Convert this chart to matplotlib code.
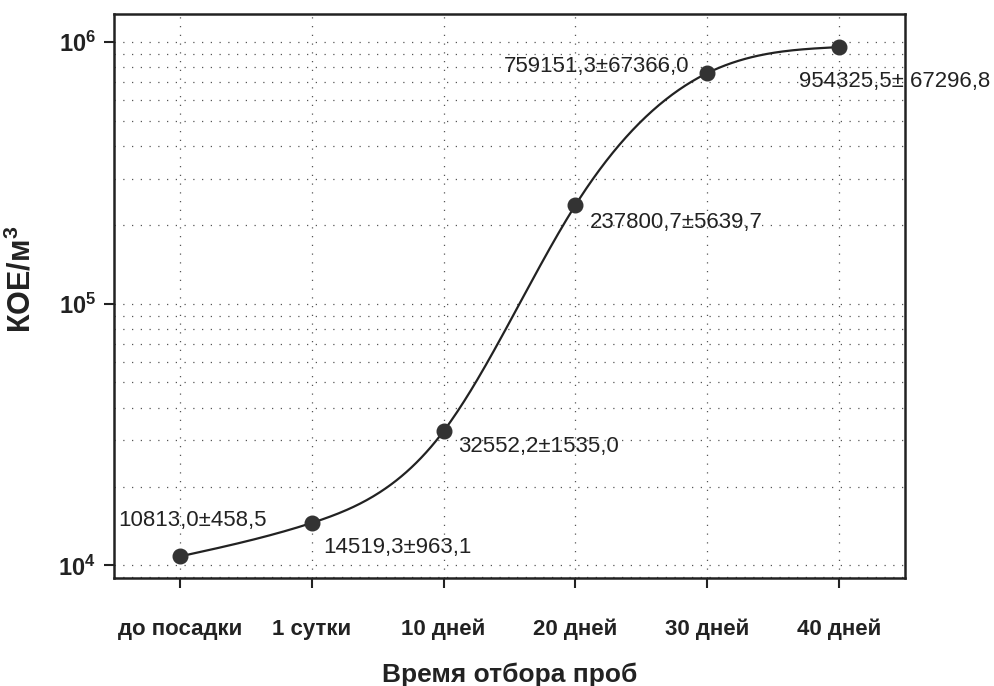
import numpy as np
import matplotlib.pyplot as plt
from matplotlib.ticker import LogLocator, FixedLocator, NullFormatter

plt.rcParams['font.family'] = ['Liberation Sans', 'DejaVu Sans']
plt.rcParams['mathtext.fontset'] = 'custom'
plt.rcParams['mathtext.rm'] = 'Liberation Sans'
plt.rcParams['mathtext.bf'] = 'Liberation Sans:bold'

# данные
categories = ['до посадки', '1 сутки', '10 дней', '20 дней', '30 дней', '40 дней']
values = [10813.0, 14519.3, 32552.2, 237800.7, 759151.3, 954325.5]
errors = [458.5, 963.1, 1535.0, 5639.7, 67366.0, 67296.8]
labels = ['10813,0±458,5', '14519,3±963,1', '32552,2±1535,0',
          '237800,7±5639,7', '759151,3±67366,0', '954325,5± 67296,8']
# смещения подписей (пиксели)
offsets = [(-62, 36), (11, -25), (14, -15), (14, -17), (-203, 7), (-40, -34)]


def natural_spline(x, y, xs):
    """естественный кубический сплайн"""
    n = len(x)
    h = np.diff(x)
    A = np.zeros((n, n))
    b = np.zeros(n)
    A[0, 0] = A[-1, -1] = 1
    for i in range(1, n - 1):
        A[i, i - 1] = h[i - 1]
        A[i, i] = 2 * (h[i - 1] + h[i])
        A[i, i + 1] = h[i]
        b[i] = 3 * ((y[i + 1] - y[i]) / h[i] - (y[i] - y[i - 1]) / h[i - 1])
    c = np.linalg.solve(A, b)
    out = np.empty_like(xs)
    for k, t in enumerate(xs):
        i = min(max(np.searchsorted(x, t) - 1, 0), n - 2)
        dx = t - x[i]
        bb = (y[i + 1] - y[i]) / h[i] - h[i] * (2 * c[i] + c[i + 1]) / 3
        d = (c[i + 1] - c[i]) / (3 * h[i])
        out[k] = y[i] + bb * dx + c[i] * dx ** 2 + d * dx ** 3
    return out


x = np.arange(len(categories), dtype=float)
logv = np.log10(values)
xs = np.linspace(0, x[-1], 400)
ys = 10 ** natural_spline(x, logv, xs)

fig = plt.figure(figsize=(9.95, 6.86), dpi=100)
ax = fig.add_axes([0.1146, 0.157, 0.7950, 0.823])

ax.plot(xs, ys, color='#222222', lw=1.6, zorder=3)
ax.plot(x, values, 'o', color='#333333', ms=10.5, zorder=4)

for xi, v, lab, (dx, dy) in zip(x, values, labels, offsets):
    ax.annotate(lab, (xi, v), xytext=(dx, dy), textcoords='offset pixels',
                fontsize=16, color='#222222', ha='left', va='center')

ax.set_yscale('log')
ax.set_ylim(8920, 1.28e6)
ax.set_xlim(-0.5, 5.5)
ax.set_xticks(x)
ax.set_xticklabels(categories, fontsize=16, fontweight='bold')
ax.yaxis.set_major_locator(FixedLocator([1e4, 1e5, 1e6]))
ax.set_yticklabels(['$\\mathbf{10^4}$', '$\\mathbf{10^5}$', '$\\mathbf{10^6}$'],
                   fontsize=17)
ax.yaxis.set_minor_locator(LogLocator(base=10, subs=np.arange(2, 10)))
ax.yaxis.set_minor_formatter(NullFormatter())
ax.tick_params(axis='y', which='minor', length=0)
ax.tick_params(axis='both', which='major', length=7, width=1.5, color='#222222',
               labelcolor='#222222')
ax.tick_params(axis='x', pad=22)
ax.tick_params(axis='y', pad=6)

grid_style = dict(color='#555555', linestyle=(0, (1, 6)), linewidth=0.9)
ax.grid(True, which='major', axis='both', **grid_style)
ax.grid(True, which='minor', axis='y', **grid_style)

for s in ax.spines.values():
    s.set_linewidth(1.8)
    s.set_color('#222222')

ax.set_xlabel('Время отбора проб', fontsize=19, fontweight='bold',
              color='#222222', labelpad=16)
ax.set_ylabel('КОЕ/м$^\\mathbf{3}$', fontsize=22, fontweight='bold',
              color='#222222')
ax.yaxis.set_label_coords(-0.097, 0.53)

fig.savefig('out.png', dpi=100)
